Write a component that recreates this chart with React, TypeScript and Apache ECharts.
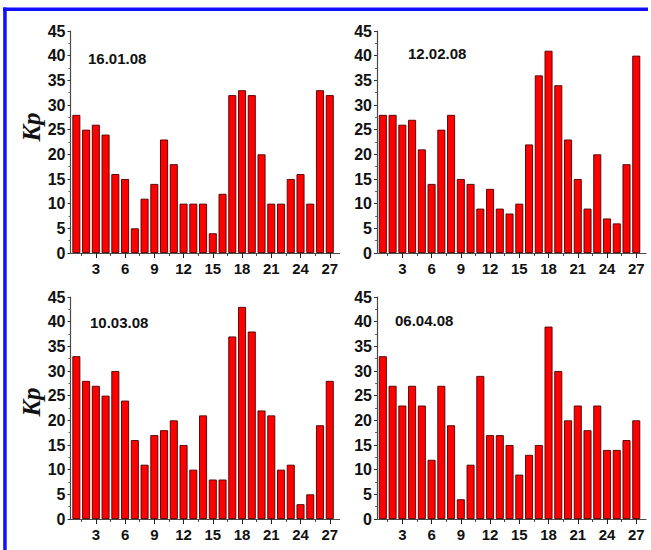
import React, { useEffect, useRef } from "react";
import * as echarts from "echarts";

const days = Array.from({ length: 27 }, (_, i) => i + 1);
const dateLabels = ["16.01.08", "12.02.08", "10.03.08", "06.04.08"];
const kp160108 = [28, 25, 26, 24, 16, 15, 5, 11, 14, 23, 18, 10, 10, 10, 4, 12, 32, 33, 32, 20, 10, 10, 15, 16, 10, 33, 32];
const kp120208 = [28, 28, 26, 27, 21, 14, 25, 28, 15, 14, 9, 13, 9, 8, 10, 22, 36, 41, 34, 23, 15, 9, 20, 7, 6, 18, 40];
const kp100308 = [33, 28, 27, 25, 30, 24, 16, 11, 17, 18, 20, 15, 10, 21, 8, 8, 37, 43, 38, 22, 21, 10, 11, 3, 5, 19, 28];
const kp060408 = [33, 27, 23, 27, 23, 12, 27, 19, 4, 11, 29, 17, 17, 15, 9, 13, 15, 39, 30, 20, 23, 18, 23, 14, 14, 16, 20];
const xMajorTicks = [3, 6, 9, 12, 15, 18, 21, 24, 27];
const xMinorTicks = [1.5, 4.5, 7.5, 10.5, 13.5, 16.5, 19.5, 22.5, 25.5];
const yTickStep = 5;
const yMax = 45;

const seriesValues = [kp160108, kp120208, kp100308, kp060408];

export default function App() {
  const ref = useRef<HTMLDivElement>(null);
  useEffect(() => {
    if (!ref.current) return;
    const chart = echarts.init(ref.current, null, { renderer: "svg" });
    const grids = [
      { left: 70.5, top: 31, width: 269, height: 222 },
      { left: 377, top: 31, width: 269, height: 222 },
      { left: 70.5, top: 297, width: 269, height: 222 },
      { left: 377, top: 297, width: 269, height: 222 },
    ];
    const axisColor = "#4a4a4a";
    const font = "Arial, 'Liberation Sans', sans-serif";
    const xAxes: any[] = [];
    const yAxes: any[] = [];
    const series: any[] = [];
    grids.forEach((_, gi) => {
      xAxes.push({
        type: "value",
        gridIndex: gi,
        min: 0.4,
        max: 28,
        position: "bottom",
        splitLine: { show: false },
        axisLine: { show: true, lineStyle: { color: axisColor, width: 1.2 } },
        axisTick: { show: true, customValues: xMajorTicks, length: 5, lineStyle: { color: "#222" } },
        axisLabel: {
          customValues: xMajorTicks,
          margin: 8,
          color: "#111",
          fontWeight: "bold",
          fontSize: 15,
          fontFamily: font,
        },
      });
      xAxes.push({
        type: "value",
        gridIndex: gi,
        min: 0.4,
        max: 28,
        position: "bottom",
        splitLine: { show: false },
        axisLine: { show: false },
        axisTick: { show: true, customValues: xMinorTicks, length: 3, lineStyle: { color: "#444" } },
        axisLabel: { show: false },
      });
      yAxes.push({
        type: "value",
        gridIndex: gi,
        min: 0,
        max: yMax,
        interval: yTickStep,
        splitLine: { show: false },
        axisLine: { show: true, lineStyle: { color: axisColor, width: 1.2 } },
        axisTick: { show: true, length: 3, lineStyle: { color: "#333" } },
        minorTick: { show: true, splitNumber: 2, length: 2, lineStyle: { color: "#666" } },
        axisLabel: {
          margin: 5,
          color: "#111",
          fontWeight: "bold",
          fontSize: 16,
          fontFamily: font,
        },
      });
      series.push({
        type: "bar",
        xAxisIndex: gi * 2,
        yAxisIndex: gi,
        barWidth: 8,
        data: days.map((d, i) => [d, seriesValues[gi][i]]),
        itemStyle: { color: "#ff0000", borderColor: "#4a0000", borderWidth: 0.9 },
      });
    });

    const datePos = [
      [88, 58],
      [408, 53],
      [90, 322],
      [395, 320],
    ];
    const graphic: any[] = [
      {
        type: "rect",
        shape: { x: 3, y: 7.5, width: 645, height: 3.5 },
        style: { fill: "#1010ff" },
        silent: true,
      },
      {
        type: "rect",
        shape: { x: 3.2, y: 7.5, width: 3.5, height: 542.5 },
        style: { fill: "#1010ff" },
        silent: true,
      },
      ...dateLabels.map((t, i) => ({
        type: "text",
        x: datePos[i][0],
        y: datePos[i][1],
        style: {
          text: t,
          fill: "#111",
          font: `bold 15px ${font}`,
          textAlign: "left",
          textVerticalAlign: "middle",
        },
      })),
      ...[127, 402].map((cy) => ({
        type: "text",
        x: 31,
        y: cy,
        rotation: Math.PI / 2,
        style: {
          text: "Kp",
          fill: "#111",
          font: "italic bold 25px 'Times New Roman', 'Liberation Serif', serif",
          textAlign: "center",
          textVerticalAlign: "middle",
        },
      })),
    ];

    chart.setOption({
      animation: false,
      backgroundColor: "#ffffff",
      grid: grids,
      xAxis: xAxes,
      yAxis: yAxes,
      series,
      graphic,
    });
    return () => chart.dispose();
  }, []);
  return (
    <div
      ref={ref}
      style={{ position: "fixed", left: 0, top: 0, width: 651, height: 550, overflow: "hidden" }}
    />
  );
}
